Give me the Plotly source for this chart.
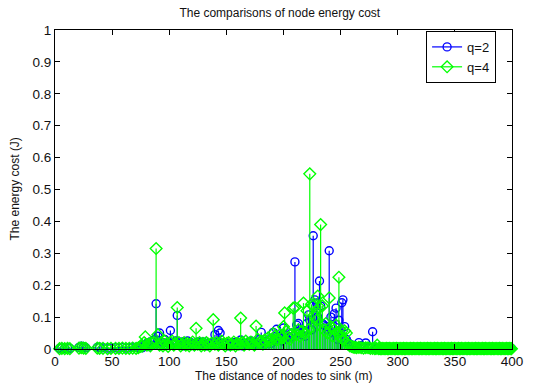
import plotly.graph_objects as go

# Node distance to the sink (m) and per-node energy cost (J) for two q settings
distance = [
    4, 6, 8.5, 11, 13, 21, 23, 25, 27, 37, 39, 42, 46, 49, 53, 56, 59, 62, 65, 68, 71, 73,
    75, 76.5, 78, 79, 80.5, 82, 83.5, 85, 86.5, 88.5, 90, 91.5, 93, 94.5, 96, 97.5, 99,
    101, 102.5, 104, 105.5, 107, 108.5, 110, 111.5, 113, 114.5, 116, 117.5, 119, 120.5,
    122, 123.5, 125, 126.5, 128, 129.5, 131, 132.5, 134, 135.5, 137, 138.5, 140, 141.5,
    143, 144.5, 146, 147.5, 149, 150.5, 152, 153.5, 155, 156.5, 158, 159.5, 161, 162.5,
    164, 165.5, 167, 168.5, 170, 171.5, 173, 174.5, 176, 177.5, 179, 180.5, 182, 183.5,
    185, 186.5, 188, 189.5, 191, 192.5, 194, 195.5, 197, 198.5, 200, 201, 202.5, 204,
    205.5, 207, 208.5, 210, 211.5, 213, 214.5, 216, 217.5, 219, 220.5, 222, 223, 224.5,
    226, 227.5, 229, 230, 231.5, 232.5, 234, 235.5, 237, 238.5, 240, 241.5, 243, 244.5,
    246, 247.5, 248.5, 250, 251, 252, 253.5, 255, 256.5, 258, 259.5, 261, 262.5, 264,
    266, 268, 270, 272, 274, 276, 278,
    280, 281, 282, 283, 284, 285, 286, 287, 288, 289, 290, 291, 292, 293, 294, 295,
    296, 297, 298, 299, 300, 301, 302, 303, 304, 305, 306, 307, 308, 309, 310, 311,
    312, 313, 314, 315, 316, 317, 318, 319, 320, 321, 322, 323, 324, 325, 326, 327,
    328, 329, 330, 331, 332, 333, 334, 335, 336, 337, 338, 339, 340, 341, 342, 343,
    344, 345, 346, 347, 348, 349, 350, 351, 352, 353, 354, 355, 356, 357, 358, 359,
    360, 361, 362, 363, 364, 365, 366, 367, 368, 369, 370, 371, 372, 373, 374, 375,
    376, 377, 378, 379, 380, 381, 382, 383, 384, 385, 386, 387, 388, 389, 390, 391,
    392, 393, 394, 395, 396, 397, 398, 399, 399.5,
]

cost_q2 = [
    .002, .003, .002, .003, .002, .005, .009, .007, .004, .005, .006, .004, .003, .003, .004, .003, .005, .003, .004, .006, .005, .003,
    .006, .004, .012, .010, .018, .008, .022, .012, .028, .142, .040, .050, .015, .020, .030, .012, .018,
    .058, .015, .020, .025, .105, .012, .018, .022, .010, .015, .025, .012, .020, .015,
    .010, .018, .022, .012, .020, .022, .015, .010, .018, .012, .015, .020, .045, .012,
    .058, .050, .018, .012, .020, .015, .010, .018, .012, .020, .015, .022, .012, .028,
    .010, .018, .015, .012, .020, .025, .015, .018, .022, .012, .030, .052, .020, .015,
    .025, .020, .030, .018, .052, .025, .062, .040, .035, .025, .066, .045, .030, .040,
    .035, .050, .040, .273, .075, .080, .050, .045, .054, .040, .080, .107, .090, .060,
    .355, .154, .144, .100, .213, .135, .080, .075, .070, .060, .308, .100, .050, .110,
    .128, .030, .090, .060, .145, .154, .070, .030, .020, .015, .012, .010, .008, .006,
    .020, .010, .005, .019, .006, .004, .054,
    .003, .002, .002, .003, .002, .002, .003, .002, .002, .003, .002, .002, .003, .002, .002, .003,
    .002, .002, .003, .002, .002, .003, .002, .002, .003, .002, .002, .003, .002, .002, .003, .002,
    .002, .003, .002, .002, .003, .002, .002, .003, .002, .002, .003, .002, .002, .003, .002, .002,
    .003, .002, .002, .003, .002, .002, .003, .002, .002, .003, .002, .002, .003, .002, .002, .003,
    .002, .002, .003, .002, .002, .003, .002, .002, .003, .002, .002, .003, .002, .002, .003, .002,
    .002, .003, .002, .002, .003, .002, .002, .003, .002, .002, .003, .002, .002, .003, .002, .002,
    .003, .002, .002, .003, .002, .002, .003, .002, .002, .003, .002, .002, .003, .002, .002, .003,
    .002, .002, .003, .002, .002, .003, .002, .002, .002,
]

cost_q4 = [
    .001, .002, .001, .002, .001, .003, .004, .003, .002, .003, .002, .002, .001, .002, .002, .002, .003, .002, .002, .003, .002, .004,
    .008, .010, .020, .038, .012, .015, .010, .018, .020, .315, .045, .012, .020, .010, .025, .015, .008,
    .020, .025, .012, .018, .130, .020, .010, .015, .020, .012, .018, .010, .015, .022,
    .012, .065, .015, .020, .010, .018, .012, .020, .015, .010, .018, .092, .015, .020,
    .012, .018, .025, .015, .010, .018, .020, .012, .015, .022, .010, .018, .015, .097,
    .020, .012, .025, .018, .015, .022, .018, .012, .072, .030, .020, .025, .015, .028,
    .022, .035, .025, .030, .048, .040, .028, .030, .045, .035, .070, .113, .055, .035,
    .030, .045, .128, .130, .045, .060, .040, .055, .144, .050, .120, .060, .549, .140,
    .135, .100, .090, .166, .130, .390, .135, .060, .080, .050, .160, .070, .040, .060,
    .075, .050, .225, .040, .056, .030, .057, .050, .015, .010, .008, .006, .005, .004,
    .005, .004, .003, .004, .004, .002, .002,
    .001, .002, .012, .001, .002, .001, .001, .002, .001, .001, .002, .001, .001, .002, .001, .001,
    .002, .001, .001, .002, .001, .001, .002, .001, .001, .002, .001, .001, .002, .001, .001, .002,
    .001, .001, .002, .001, .001, .002, .001, .001, .002, .001, .001, .002, .001, .001, .002, .001,
    .001, .002, .001, .001, .002, .001, .001, .002, .001, .001, .002, .001, .001, .002, .001, .001,
    .002, .001, .001, .002, .001, .001, .002, .001, .001, .002, .001, .001, .002, .001, .001, .002,
    .001, .001, .002, .001, .001, .002, .001, .001, .002, .001, .001, .002, .001, .001, .002, .001,
    .001, .002, .001, .001, .002, .001, .001, .002, .001, .001, .002, .001, .001, .002, .001, .001,
    .002, .001, .001, .002, .001, .001, .002, .001, .001,
]

x_ticks = [0, 50, 100, 150, 200, 250, 300, 350, 400]
y_ticks = [0, 0.1, 0.2, 0.3, 0.4, 0.5, 0.6, 0.7, 0.8, 0.9, 1]
y_tick_text = ["0", "0.1", "0.2", "0.3", "0.4", "0.5", "0.6", "0.7", "0.8", "0.9", "1"]

FONT = "Arial, 'Liberation Sans', Helvetica, sans-serif"
INK = "#111111"


def stem_segments(xs, ys):
    sx, sy = [], []
    for x, y in zip(xs, ys):
        sx += [x, x, None]
        sy += [0, y, None]
    return sx, sy


series = [
    ("q=2", cost_q2, "#0000ff", "circle-open", 8),
    ("q=4", cost_q4, "#00ff00", "diamond-open", 9),
]

fig = go.Figure()
for name, vals, color, symbol, msize in series:
    sx, sy = stem_segments(distance, vals)
    fig.add_trace(go.Scatter(
        x=sx, y=sy, mode="lines", line=dict(color=color, width=1.2),
        showlegend=False, hoverinfo="skip",
    ))
    fig.add_trace(go.Scatter(
        x=distance, y=vals, mode="markers", name=name, showlegend=False,
        marker=dict(symbol=symbol, size=msize, color=color, line=dict(width=1.4, color=color)),
        cliponaxis=False,
    ))

# legend keys: line with a marker in the middle
for name, vals, color, symbol, msize in series:
    fig.add_trace(go.Scatter(
        x=[None], y=[None], mode="lines+markers", name=name,
        line=dict(color=color, width=1.2),
        marker=dict(symbol=symbol, size=msize, color=color, line=dict(width=1.3, color=color)),
    ))

axis_common = dict(
    showline=True, linecolor="black", linewidth=1, mirror="ticks",
    ticks="inside", ticklen=5, tickcolor="black", tickwidth=1,
    showgrid=False, zeroline=False, automargin=False,
    tickfont=dict(family=FONT, size=13.5, color=INK),
)

fig.update_layout(
    width=536, height=385,
    margin=dict(l=55, r=24, t=30, b=36),
    paper_bgcolor="white", plot_bgcolor="white",
    font=dict(family=FONT, color=INK),
    title=dict(text="The comparisons of node energy cost", x=0.522, xanchor="center",
               y=0.966, yanchor="middle", font=dict(family=FONT, size=12, color=INK)),
    xaxis=dict(range=[0, 400], tickvals=x_ticks, **axis_common),
    yaxis=dict(range=[0, 1], tickvals=y_ticks, ticktext=y_tick_text, **axis_common),
    legend=dict(x=0.812, y=0.997, xanchor="left", yanchor="top",
                bgcolor="white", bordercolor="black", borderwidth=1,
                font=dict(family=FONT, size=13, color=INK),
                tracegroupgap=0, itemwidth=30),
    annotations=[
        dict(text="The distance of nodes to sink (m)", xref="paper", yref="paper",
             x=0.5, y=0, xanchor="center", yanchor="middle", yshift=-27,
             showarrow=False, font=dict(family=FONT, size=12, color=INK)),
        dict(text="The energy cost (J)", xref="paper", yref="paper",
             x=0, y=0.5, xanchor="center", yanchor="middle", xshift=-41,
             textangle=-90, showarrow=False, font=dict(family=FONT, size=12, color=INK)),
    ],
)

fig.write_html("out.html")
